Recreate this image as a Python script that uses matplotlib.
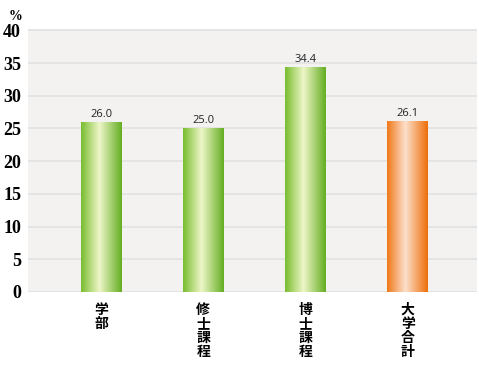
import numpy as np
import matplotlib.pyplot as plt
from matplotlib.colors import LinearSegmentedColormap

categories = ['学部', '修士課程', '博士課程', '大学合計']
values = [26.0, 25.0, 34.4, 26.1]
bar_kind = ['green', 'green', 'green', 'orange']
yticks = [0, 5, 10, 15, 20, 25, 30, 35, 40]

cmaps = {
    'green': LinearSegmentedColormap.from_list(
        'g', [(0, '#78bd2e'), (0.45, '#eef6c8'), (1, '#64ae22')]),
    'orange': LinearSegmentedColormap.from_list(
        'o', [(0, '#f07818'), (0.45, '#fde0cc'), (1, '#ee6e08')]),
}

fig = plt.figure(figsize=(4.79, 3.75), dpi=100)
ax = fig.add_axes([28 / 479, 83 / 375, 449 / 479, 263 / 375])
ax.set_facecolor('#f3f2f1')

x = np.arange(len(categories))
ax.yaxis.grid(True, color='#e2e2e2', linewidth=1.2)
ax.set_axisbelow(True)
for s in ax.spines.values():
    s.set_visible(False)
ax.tick_params(length=0)

grad = np.linspace(0, 1, 256).reshape(1, -1)
bars = ax.bar(x, values, width=0.4, color='none')
for b, kind, v in zip(bars, bar_kind, values):
    x0, w, h = b.get_x(), b.get_width(), b.get_height()
    im = ax.imshow(grad, cmap=cmaps[kind], aspect='auto',
                   extent=(x0, x0 + w, 0, h), zorder=2)
    im.set_clip_path(b)
    ax.text(x0 + w / 2, h + 0.35, f'{v:.1f}', ha='center', va='bottom',
            fontsize=8, family='Open Sans', color='#222222')
ax.set_xlim(-0.714, 3.676)
ax.set_ylim(0, 40.2)
ax.set_yticks(yticks)

ax.set_xticks(x)
ax.set_xticklabels(['\n'.join(c) for c in categories], fontsize=10,
                   family=['Noto Sans CJK JP'], fontweight='bold',
                   linespacing=1.0, va='top')
ax.tick_params(axis='x', pad=8)
for lab in ax.get_yticklabels():
    lab.set_family('Liberation Serif')
    lab.set_fontsize(13)
    lab.set_fontweight('bold')
ax.tick_params(axis='y', pad=5)

fig.text(9 / 479, 1 - 16 / 375, '%', fontsize=10, family='Liberation Serif',
         fontweight='bold', va='center')

fig.savefig('out.png', dpi=100)
